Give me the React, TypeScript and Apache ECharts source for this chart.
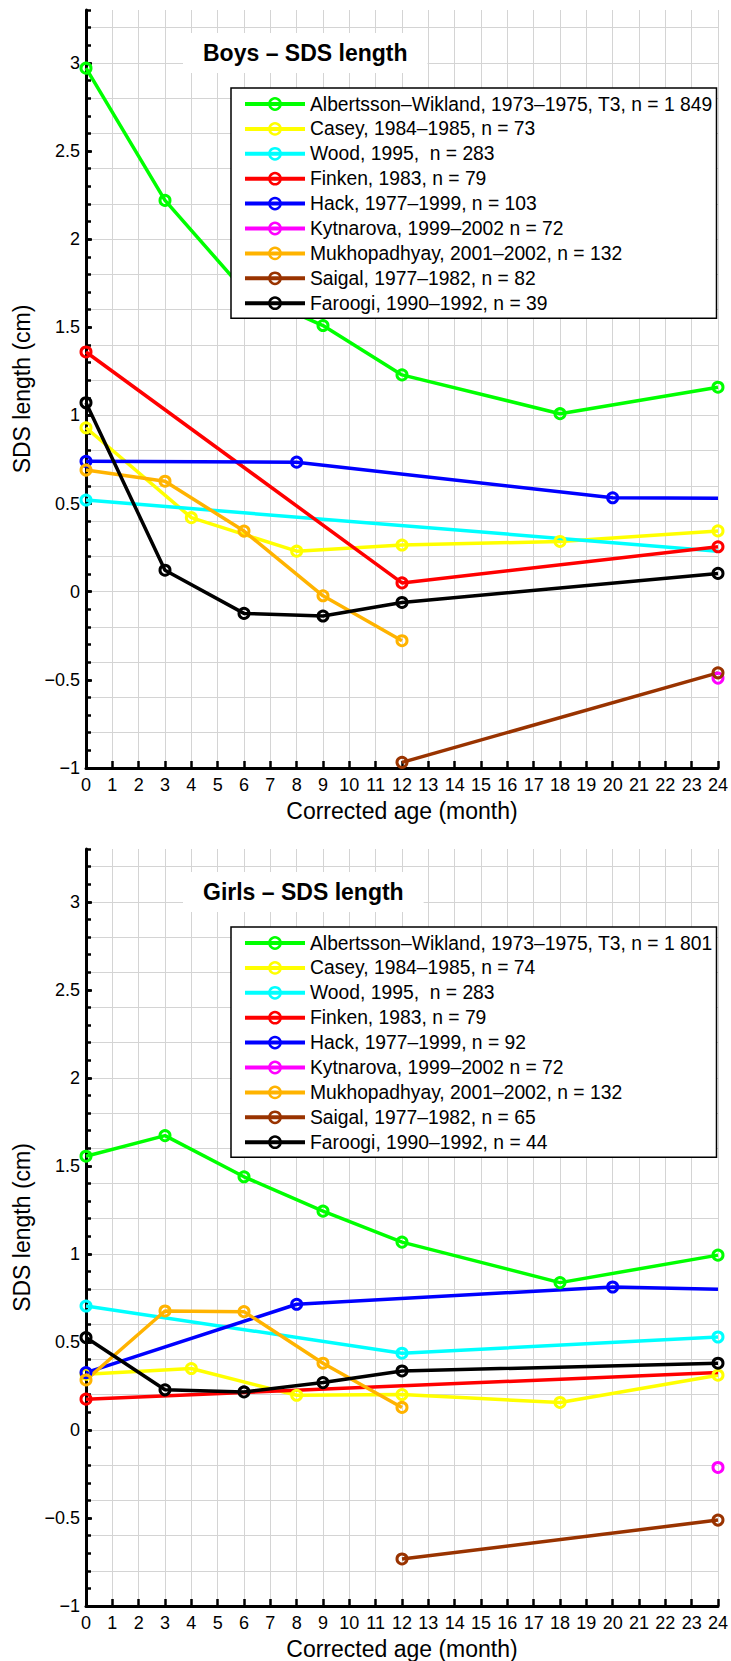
import React, { useEffect, useRef } from "react";
import * as echarts from "echarts";

const FONT = "'Liberation Sans', Arial, Helvetica, sans-serif";

const studyColors = ["#00ff00", "#ffff00", "#00ffff", "#ff0000", "#0000ff", "#ff00ff", "#ffb300", "#993300", "#000000"];

const boysNames = [
  "Albertsson–Wikland, 1973–1975, T3, n = 1 849",
  "Casey, 1984–1985, n = 73",
  "Wood, 1995,  n = 283",
  "Finken, 1983, n = 79",
  "Hack, 1977–1999, n = 103",
  "Kytnarova, 1999–2002 n = 72",
  "Mukhopadhyay, 2001–2002, n = 132",
  "Saigal, 1977–1982, n = 82",
  "Faroogi, 1990–1992, n = 39",
];
const girlsNames = [
  "Albertsson–Wikland, 1973–1975, T3, n = 1 801",
  "Casey, 1984–1985, n = 74",
  "Wood, 1995,  n = 283",
  "Finken, 1983, n = 79",
  "Hack, 1977–1999, n = 92",
  "Kytnarova, 1999–2002 n = 72",
  "Mukhopadhyay, 2001–2002, n = 132",
  "Saigal, 1977–1982, n = 65",
  "Faroogi, 1990–1992, n = 44",
];

// [corrected age (month), SDS length]
const boysAlbertsson = [[0, 2.97], [3, 2.22], [6, 1.71], [9, 1.51], [12, 1.23], [18, 1.01], [24, 1.16]];
const boysCasey = [[0, 0.93], [4, 0.42], [8, 0.23], [12, 0.265], [18, 0.285], [24, 0.345]];
const boysWood = [[0, 0.52], [24, 0.23]];
const boysFinken = [[0, 1.36], [12, 0.05], [24, 0.255]];
const boysHack = [[0, 0.74], [8, 0.735], [20, 0.533], [24, 0.53]];
const boysKytnarova = [[24, -0.49]];
const boysMukhopadhyay = [[0, 0.69], [3, 0.627], [6, 0.344], [9, -0.023], [12, -0.278]];
const boysSaigal = [[12, -0.968], [24, -0.46]];
const boysFaroogi = [[0, 1.072], [3, 0.122], [6, -0.123], [9, -0.138], [12, -0.061], [24, 0.104]];

const girlsAlbertsson = [[0, 1.555], [3, 1.672], [6, 1.438], [9, 1.243], [12, 1.067], [18, 0.837], [24, 0.993]];
const girlsCasey = [[0, 0.317], [4, 0.349], [8, 0.197], [12, 0.201], [18, 0.156], [24, 0.311]];
const girlsWood = [[0, 0.704], [12, 0.436], [24, 0.528]];
const girlsFinken = [[0, 0.175], [24, 0.326]];
const girlsHack = [[0, 0.326], [8, 0.714], [20, 0.812], [24, 0.799]];
const girlsKytnarova = [[24, -0.213]];
const girlsMukhopadhyay = [[0, 0.284], [3, 0.676], [6, 0.672], [9, 0.379], [12, 0.128]];
const girlsSaigal = [[12, -0.733], [24, -0.512]];
const girlsFaroogi = [[0, 0.525], [3, 0.228], [6, 0.216], [9, 0.269], [12, 0.335], [24, 0.379]];

const boysData = [boysAlbertsson, boysCasey, boysWood, boysFinken, boysHack, boysKytnarova, boysMukhopadhyay, boysSaigal, boysFaroogi];
const girlsData = [girlsAlbertsson, girlsCasey, girlsWood, girlsFinken, girlsHack, girlsKytnarova, girlsMukhopadhyay, girlsSaigal, girlsFaroogi];

// months at which a series is drawn without a marker
const boysUnmarked = [[], [], [24], [], [24], [], [], [], []];
const girlsUnmarked = [[], [], [], [24], [24], [], [], [], []];

const xTicks = { min: 0, max: 24, interval: 1 };
const yTicks = { min: -1, max: 3.3, labelInterval: 0.5, minorInterval: 0.1, gridInterval: 0.2 };

const GRID_LEFT = 86;
const GRID_W = 636;
const GRID_H = 758;
const TOPS = [10, 849];

function fmt(v: number) {
  const r = Math.round(v * 10) / 10;
  return r < 0 ? "\u2212" + String(Math.abs(r)) : String(r);
}

function makeSeries(names: string[], data: number[][][], unmarked: number[][], axisIdx: number, yIdx: number) {
  return names.map((name, i) => ({
    type: "line",
    name,
    xAxisIndex: axisIdx,
    yAxisIndex: yIdx,
    clip: false,
    symbol: "circle",
    symbolSize: 10,
    data: data[i].map((p) => (unmarked[i].includes(p[0]) ? { value: p, symbol: "none" } : { value: p })),
    lineStyle: { color: studyColors[i], width: 3.5 },
    itemStyle: { color: "rgba(255,255,255,0)", borderColor: studyColors[i], borderWidth: 3 },
    emphasis: { disabled: true },
  }));
}

function xAxis(gridIndex: number) {
  return {
    type: "value",
    gridIndex,
    min: xTicks.min,
    max: xTicks.max,
    interval: xTicks.interval,
    name: "Corrected age (month)",
    nameLocation: "middle",
    nameGap: 31,
    nameTextStyle: { fontFamily: FONT, fontSize: 23, color: "#000" },
    axisLine: { show: true, onZero: false, lineStyle: { color: "#000", width: 3 } },
    axisTick: { show: true, inside: true, length: 7, lineStyle: { color: "#000", width: 2.5 } },
    axisLabel: { fontFamily: FONT, fontSize: 18, color: "#000", margin: 8 },
    splitLine: { show: true, lineStyle: { color: "#d4d4d4", width: 1 } },
  };
}

function yAxes(gridIndex: number) {
  const base = { type: "value", gridIndex, position: "left", min: yTicks.min, max: yTicks.max };
  return [
    {
      ...base,
      interval: yTicks.labelInterval,
      name: "SDS length (cm)",
      nameLocation: "middle",
      nameGap: 52,
      nameTextStyle: { fontFamily: FONT, fontSize: 23, color: "#000" },
      axisLine: { show: true, onZero: false, lineStyle: { color: "#000", width: 3 } },
      axisTick: { show: true, inside: true, length: 6, lineStyle: { color: "#000", width: 2.5 } },
      axisLabel: { fontFamily: FONT, fontSize: 18, color: "#000", margin: 6, showMaxLabel: false, formatter: fmt },
      splitLine: { show: false },
      z: 3,
    },
    {
      ...base,
      interval: yTicks.minorInterval,
      axisLine: { show: false, onZero: false },
      axisTick: { show: true, inside: true, length: 5, lineStyle: { color: "#000", width: 2.5 } },
      axisLabel: { show: false },
      splitLine: { show: false },
    },
    {
      ...base,
      interval: yTicks.gridInterval,
      axisLine: { show: false, onZero: false },
      axisTick: { show: false },
      axisLabel: { show: false },
      splitLine: { show: true, showMaxLine: false, showMinLine: false, lineStyle: { color: "#d4d4d4", width: 1 } },
    },
  ];
}

function legend(data: string[], top: number) {
  return {
    data,
    orient: "vertical",
    left: 231,
    top,
    selectedMode: false,
    backgroundColor: "#fff",
    borderColor: "#000",
    borderWidth: 1.5,
    borderRadius: 0,
    padding: [6, 4, 5, 12],
    itemWidth: 60,
    itemHeight: 14,
    itemGap: 4.9,
    lineStyle: { width: 4 },
    itemStyle: { borderWidth: 2.5 },
    textStyle: { fontFamily: FONT, fontSize: 19.3, color: "#000", lineHeight: 20 },
  };
}

function title(text: string, top: number) {
  return {
    text,
    left: 183,
    top,
    padding: [8, 20],
    backgroundColor: "#fff",
    textStyle: { fontFamily: FONT, fontSize: 23, fontWeight: "bold", color: "#000", lineHeight: 24 },
  };
}

export default function App() {
  const ref = useRef<HTMLDivElement>(null);
  useEffect(() => {
    if (!ref.current) return;
    const chart = echarts.init(ref.current, undefined, { renderer: "svg" });
    chart.setOption({
      animation: false,
      backgroundColor: "#fff",
      textStyle: { fontFamily: FONT },
      title: [title("Boys – SDS length", 33), title("Girls – SDS length", 33 + 839)],
      legend: [legend(boysNames, 88), legend(girlsNames, 88 + 839)],
      grid: TOPS.map((t) => ({ left: GRID_LEFT, top: t, width: GRID_W, height: GRID_H, containLabel: false })),
      xAxis: [xAxis(0), xAxis(1)],
      yAxis: [...yAxes(0), ...yAxes(1)],
      series: [
        ...makeSeries(boysNames, boysData, boysUnmarked, 0, 0),
        ...makeSeries(girlsNames, girlsData, girlsUnmarked, 1, 3),
      ],
    });
    return () => chart.dispose();
  }, []);
  return <div ref={ref} style={{ position: "absolute", left: 0, top: 0, width: 731, height: 1661 }} />;
}
